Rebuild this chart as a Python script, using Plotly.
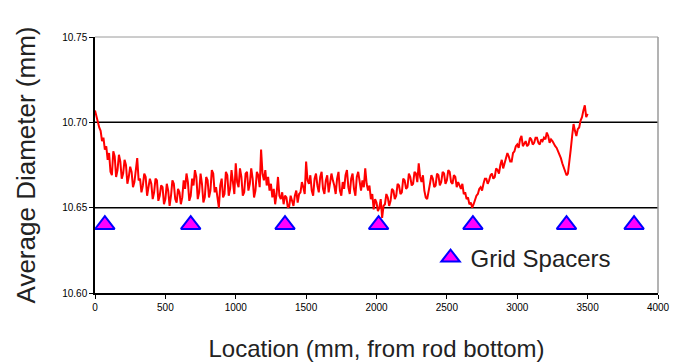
import plotly.graph_objects as go

# Average rod diameter along the rod, sampled every 10 mm
location_mm = [
    0, 10, 20, 30, 40, 50, 60, 70, 80, 90, 100, 110, 120, 130, 140, 150, 160, 170, 180, 190,
    200, 210, 220, 230, 240, 250, 260, 270, 280, 290, 300, 310, 320, 330, 340, 350, 360, 370, 380, 390,
    400, 410, 420, 430, 440, 450, 460, 470, 480, 490, 500, 510, 520, 530, 540, 550, 560, 570, 580, 590,
    600, 610, 620, 630, 640, 650, 660, 670, 680, 690, 700, 710, 720, 730, 740, 750, 760, 770, 780, 790,
    800, 810, 820, 830, 840, 850, 860, 870, 880, 890, 900, 910, 920, 930, 940, 950, 960, 970, 980, 990,
    1000, 1010, 1020, 1030, 1040, 1050, 1060, 1070, 1080, 1090, 1100, 1110, 1120, 1130, 1140, 1150, 1160, 1170, 1180, 1190,
    1200, 1210, 1220, 1230, 1240, 1250, 1260, 1270, 1280, 1290, 1300, 1310, 1320, 1330, 1340, 1350, 1360, 1370, 1380, 1390,
    1400, 1410, 1420, 1430, 1440, 1450, 1460, 1470, 1480, 1490, 1500, 1510, 1520, 1530, 1540, 1550, 1560, 1570, 1580, 1590,
    1600, 1610, 1620, 1630, 1640, 1650, 1660, 1670, 1680, 1690, 1700, 1710, 1720, 1730, 1740, 1750, 1760, 1770, 1780, 1790,
    1800, 1810, 1820, 1830, 1840, 1850, 1860, 1870, 1880, 1890, 1900, 1910, 1920, 1930, 1940, 1950, 1960, 1970, 1980, 1990,
    2000, 2010, 2020, 2030, 2040, 2050, 2060, 2070, 2080, 2090, 2100, 2110, 2120, 2130, 2140, 2150, 2160, 2170, 2180, 2190,
    2200, 2210, 2220, 2230, 2240, 2250, 2260, 2270, 2280, 2290, 2300, 2310, 2320, 2330, 2340, 2350, 2360, 2370, 2380, 2390,
    2400, 2410, 2420, 2430, 2440, 2450, 2460, 2470, 2480, 2490, 2500, 2510, 2520, 2530, 2540, 2550, 2560, 2570, 2580, 2590,
    2600, 2610, 2620, 2630, 2640, 2650, 2660, 2670, 2680, 2690, 2700, 2710, 2720, 2730, 2740, 2750, 2760, 2770, 2780, 2790,
    2800, 2810, 2820, 2830, 2840, 2850, 2860, 2870, 2880, 2890, 2900, 2910, 2920, 2930, 2940, 2950, 2960, 2970, 2980, 2990,
    3000, 3010, 3020, 3030, 3040, 3050, 3060, 3070, 3080, 3090, 3100, 3110, 3120, 3130, 3140, 3150, 3160, 3170, 3180, 3190,
    3200, 3210, 3220, 3230, 3240, 3250, 3260, 3270, 3280, 3290, 3300, 3310, 3320, 3330, 3340, 3350, 3360, 3370, 3380, 3390,
    3400, 3410, 3420, 3430, 3440, 3450, 3460, 3470, 3480, 3490, 3500,
]

avg_diameter_mm = [
    10.707, 10.703, 10.700, 10.697, 10.695, 10.689, 10.691, 10.684, 10.686, 10.678,
    10.682, 10.671, 10.669, 10.683, 10.680, 10.668, 10.672, 10.681, 10.677, 10.667,
    10.670, 10.678, 10.675, 10.664, 10.668, 10.674, 10.671, 10.662, 10.665, 10.672,
    10.679, 10.666, 10.667, 10.659, 10.663, 10.670, 10.668, 10.657, 10.661, 10.667,
    10.664, 10.655, 10.659, 10.667, 10.666, 10.654, 10.657, 10.663, 10.662, 10.652,
    10.655, 10.664, 10.660, 10.651, 10.657, 10.666, 10.664, 10.655, 10.653, 10.661,
    10.659, 10.652, 10.656, 10.666, 10.661, 10.670, 10.665, 10.654, 10.657, 10.667,
    10.663, 10.672, 10.668, 10.655, 10.659, 10.670, 10.664, 10.653, 10.656, 10.668,
    10.666, 10.656, 10.660, 10.672, 10.670, 10.659, 10.662, 10.655, 10.650, 10.663,
    10.667, 10.656, 10.658, 10.671, 10.669, 10.657, 10.661, 10.672, 10.665, 10.658,
    10.676, 10.665, 10.662, 10.673, 10.668, 10.657, 10.659, 10.670, 10.671, 10.660,
    10.664, 10.673, 10.667, 10.656, 10.660, 10.671, 10.669, 10.662, 10.684, 10.670,
    10.666, 10.672, 10.663, 10.668, 10.660, 10.664, 10.656, 10.661, 10.652, 10.658,
    10.668, 10.657, 10.655, 10.659, 10.652, 10.657, 10.656, 10.650, 10.651, 10.657,
    10.654, 10.651, 10.657, 10.660, 10.653, 10.658, 10.659, 10.665, 10.662, 10.658,
    10.677, 10.666, 10.664, 10.669, 10.660, 10.657, 10.667, 10.670, 10.663, 10.659,
    10.668, 10.671, 10.661, 10.658, 10.666, 10.669, 10.659, 10.664, 10.670, 10.666,
    10.663, 10.658, 10.667, 10.671, 10.660, 10.657, 10.665, 10.661, 10.669, 10.672,
    10.662, 10.658, 10.667, 10.670, 10.661, 10.657, 10.668, 10.671, 10.664, 10.660,
    10.666, 10.662, 10.673, 10.664, 10.660, 10.663, 10.655, 10.658, 10.649, 10.655,
    10.653, 10.648, 10.650, 10.655, 10.644, 10.651, 10.652, 10.658, 10.656, 10.651,
    10.654, 10.661, 10.660, 10.655, 10.657, 10.664, 10.663, 10.658, 10.659, 10.667,
    10.666, 10.661, 10.662, 10.670, 10.668, 10.663, 10.664, 10.671, 10.670, 10.665,
    10.676, 10.668, 10.665, 10.669, 10.660, 10.656, 10.655, 10.661, 10.664, 10.669,
    10.667, 10.662, 10.663, 10.670, 10.669, 10.663, 10.665, 10.671, 10.670, 10.664,
    10.666, 10.672, 10.671, 10.665, 10.664, 10.669, 10.668, 10.662, 10.665, 10.663,
    10.661, 10.664, 10.658, 10.659, 10.655, 10.656, 10.652, 10.653, 10.650, 10.652,
    10.655, 10.657, 10.658, 10.661, 10.662, 10.660, 10.664, 10.667, 10.667, 10.664,
    10.666, 10.669, 10.670, 10.667, 10.668, 10.673, 10.672, 10.670, 10.675, 10.678,
    10.673, 10.676, 10.678, 10.682, 10.680, 10.677, 10.677, 10.682, 10.683, 10.686,
    10.687, 10.685, 10.690, 10.692, 10.686, 10.688, 10.689, 10.686, 10.687, 10.691,
    10.690, 10.687, 10.688, 10.691, 10.691, 10.688, 10.687, 10.690, 10.689, 10.691,
    10.690, 10.694, 10.692, 10.688, 10.690, 10.689, 10.687, 10.686, 10.685, 10.683,
    10.682, 10.679, 10.676, 10.674, 10.672, 10.669, 10.670, 10.676, 10.684, 10.692,
    10.699, 10.695, 10.692, 10.696, 10.697, 10.701, 10.703, 10.707, 10.710, 10.703,
    10.705,
]

# Grid spacer positions along the rod
spacer_location_mm = [70, 680, 1350, 2015, 2685, 3350, 3830]
spacer_marker_level = [10.64, 10.64, 10.64, 10.64, 10.64, 10.64, 10.64]

x_ticks = [0, 500, 1000, 1500, 2000, 2500, 3000, 3500, 4000]
y_ticks = [10.60, 10.65, 10.70, 10.75]
y_tick_text = ["10.60", "10.65", "10.70", "10.75"]
grid_levels = [10.65, 10.70]

fig = go.Figure()

fig.add_trace(go.Scatter(
    x=location_mm, y=avg_diameter_mm, mode="lines",
    line=dict(color="#ff0000", width=2),
    showlegend=False, hoverinfo="skip",
))

fig.add_trace(go.Scatter(
    x=spacer_location_mm, y=spacer_marker_level, mode="markers",
    name="Grid Spacers",
    marker=dict(symbol="triangle-up", size=17, color="#ff00ff",
                line=dict(color="#0000ff", width=2)),
))

# Horizontal reference lines
for level in grid_levels:
    fig.add_shape(type="line", xref="paper", x0=0, x1=1, yref="y",
                  y0=level, y1=level, line=dict(color="#000000", width=1.5),
                  layer="below")

# Light frame on top and right of the plotting area
fig.add_shape(type="line", xref="paper", yref="paper", x0=0, x1=1, y0=1, y1=1,
              line=dict(color="#9a9a9a", width=1))
fig.add_shape(type="line", xref="paper", yref="paper", x0=1, x1=1, y0=0, y1=1,
              line=dict(color="#9a9a9a", width=1.5))

fig.update_layout(
    width=674, height=362,
    margin=dict(l=95, r=16, t=37, b=69, autoexpand=False),
    paper_bgcolor="white", plot_bgcolor="white",
    font=dict(family="Liberation Sans, Arial, sans-serif", color="#000000"),
    showlegend=True,
    legend=dict(x=0.596, y=0.137, xanchor="left", yanchor="middle",
                bgcolor="rgba(0,0,0,0)", font=dict(size=24, color="#222222"),
                itemwidth=30),
    xaxis=dict(
        range=[0, 4000], tickvals=x_ticks, ticks="outside", ticklen=4,
        tickcolor="#000000", tickwidth=1, showline=True, linecolor="#000000",
        linewidth=1.5, showgrid=False, zeroline=False, automargin=False,
        tickfont=dict(size=10, color="#000000"),
        title=dict(text="Location (mm, from rod bottom)",
                   font=dict(size=24, color="#222222"), standoff=29),
    ),
    yaxis=dict(
        range=[10.60, 10.75], tickvals=y_ticks, ticktext=y_tick_text,
        ticks="outside", ticklen=4, tickcolor="#000000", tickwidth=1,
        showline=True, linecolor="#000000", linewidth=1.5,
        showgrid=False, zeroline=False, automargin=False,
        tickfont=dict(size=10, color="#000000"),
        title=dict(text="Average Diameter (mm)",
                   font=dict(size=26, color="#222222"), standoff=19),
    ),
)

fig.write_html("out.html")
